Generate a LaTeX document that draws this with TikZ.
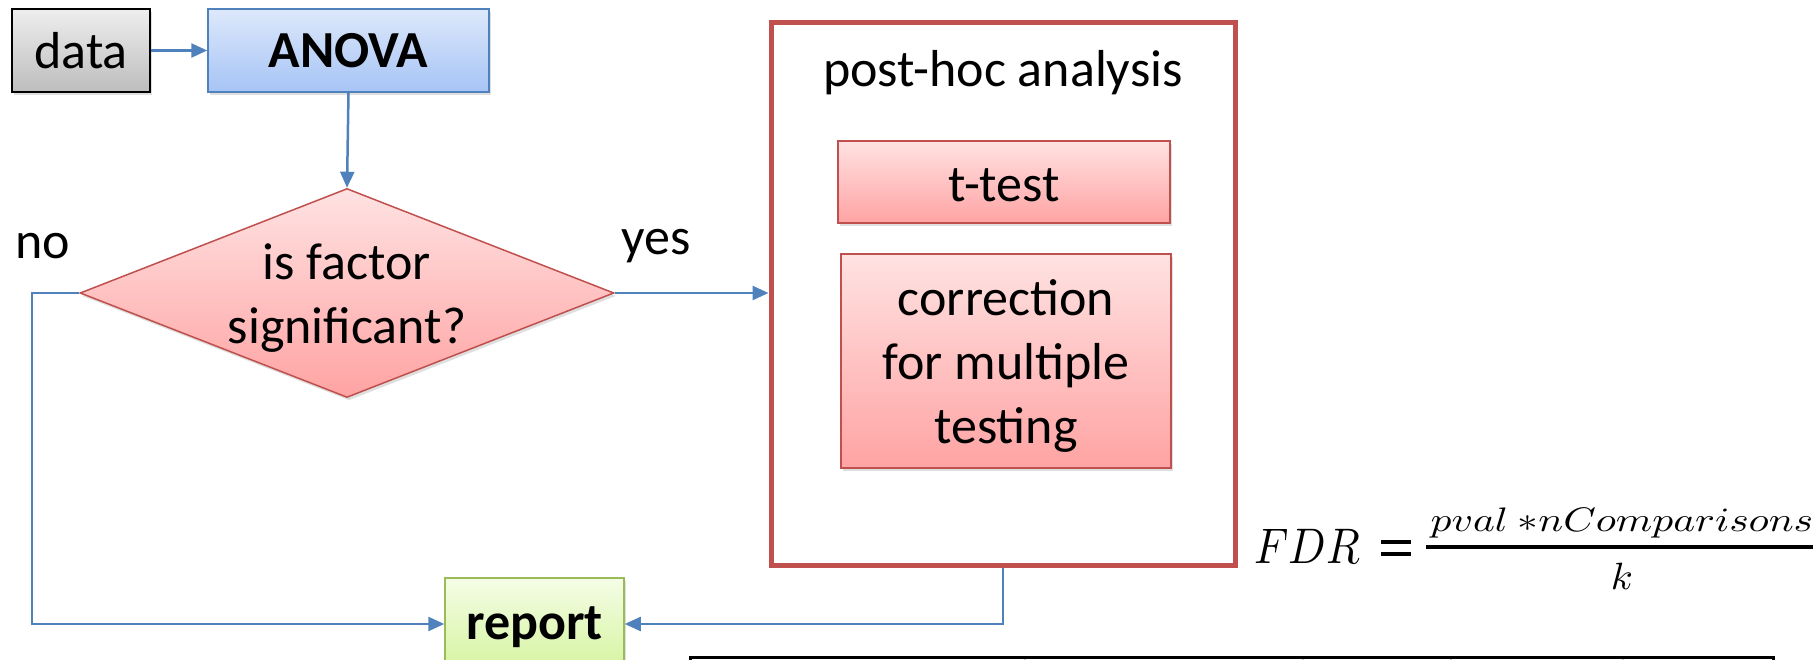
\documentclass[tikz,border=0pt]{standalone}
\usepackage{graphicx}
\usepackage{fontspec}
\setmainfont{Carlito}
\usetikzlibrary{arrows.meta,shapes.geometric,shadows}
\definecolor{connblue}{HTML}{4F81BD}
\definecolor{redborder}{HTML}{C0504D}
\definecolor{redtop}{HTML}{FFE2E2}
\definecolor{redbot}{HTML}{FFA3A3}
\definecolor{bluetop}{HTML}{DDE8FB}
\definecolor{bluebot}{HTML}{A6C4F5}
\definecolor{graytop}{HTML}{EEEEEE}
\definecolor{graybot}{HTML}{BDBDBD}
\definecolor{greentop}{HTML}{F4FDE6}
\definecolor{greenbot}{HTML}{D6F4A0}
\definecolor{greenborder}{HTML}{9BBB59}
\tikzset{
  txt/.style={font=\fontsize{52}{64}\selectfont, align=center, inner sep=0pt},
  boxbase/.style={txt, rectangle, line width=1.5pt, drop shadow={opacity=0.25, shadow xshift=2pt, shadow yshift=-3pt}},
  graybox/.style={boxbase, draw=black, top color=graytop, bottom color=graybot},
  bluebox/.style={boxbase, draw=connblue, top color=bluetop, bottom color=bluebot},
  redbox/.style={boxbase, draw=redborder, top color=redtop, bottom color=redbot},
  greenbox/.style={boxbase, draw=greenborder, top color=greentop, bottom color=greenbot},
  frame/.style={rectangle, draw=redborder, line width=5pt, fill=white, inner sep=0pt},
  conn/.style={draw=connblue, line width=2.5pt, -{Triangle[length=16pt,width=14pt]}},
}
\newcommand{\lowered}[2]{\raisebox{-#1}[\height][\depth]{#2}}
\begin{document}
\begin{tikzpicture}[x=1pt,y=-1pt]
\useasboundingbox (0,0) rectangle (1813,660);
\clip (0,0) rectangle (1813,660);
% nodes
\node[graybox, minimum width=138pt, minimum height=83pt] (data) at (81,50.5) {data};
\node[bluebox, minimum width=281pt, minimum height=83pt] (anova) at (348.5,50.5) {\bfseries ANOVA};
\node[diamond, draw=redborder, line width=1.5pt, top color=redtop, bottom color=redbot,
      minimum width=534pt, minimum height=209pt, inner sep=0pt,
      drop shadow={opacity=0.25, shadow xshift=2pt, shadow yshift=-3pt}] (dec) at (347,293) {};
\node[txt] (dectext) at (347,298) {is factor\\significant?};
\node[frame, minimum width=464pt, minimum height=542pt] (posthoc) at (1003,294) {};
\node[txt] (phtitle) at (1003,72.5) {post-hoc analysis};
\node[redbox, minimum width=332pt, minimum height=82pt] (ttest) at (1004,182) {\lowered{3.5pt}{t-test}};
\node[redbox, minimum width=330pt, minimum height=214pt] (corr) at (1006,361)
  {\lowered{5.5pt}{\begin{tabular}{@{}c@{}}correction\\for multiple\\testing\end{tabular}}};
\node[greenbox, minimum width=179pt, minimum height=92pt] (report) at (534.5,624) {\lowered{3.5pt}{\bfseries report}};
\node[txt] (nolbl) at (43,246.5) {no};
\node[txt] (yeslbl) at (656,246.5) {yes};
% connectors
\draw[conn] (data.east) -- (anova.west);
\draw[conn] (anova.south) -- (dec.north);
\draw[conn] (dec.east) -- (dec.east -| posthoc.west);
\coordinate (nocorner) at (32,293);
\draw[conn] (dec.west) -- (nocorner) |- (report.west);
\draw[conn] (posthoc.south) |- (report.east);
% formula
\node[anchor=base west, inner sep=0pt] (fdr) at (1254,563) {%
  \scalebox{4.4}[5.0]{$FDR$}\hspace{21pt}%
  \rlap{\raisebox{19pt}{\rule{30pt}{4.3pt}}}\raisebox{7pt}{\rule{30pt}{4.3pt}}\hspace{15pt}%
  \rlap{\raisebox{14.5pt}{\rule{392pt}{4pt}}}%
  \rlap{\raisebox{32pt}{\makebox[392pt]{\scalebox{4.15}[3.4]{$pval\ {\ast}nComparisons$}}}}%
  \raisebox{-26pt}{\makebox[392pt]{\scalebox{4}[3.8]{$k$}}}};
% table top (cut off)
\draw[line width=3pt, line cap=rect] (690,665) -- (690,657) -- (1773,657) -- (1773,665);
\foreach \tx in {1025,1303,1451,1623}
  \draw[line width=1.5pt, black!20] (\tx,658.5) -- (\tx,665);
\end{tikzpicture}
\end{document}
